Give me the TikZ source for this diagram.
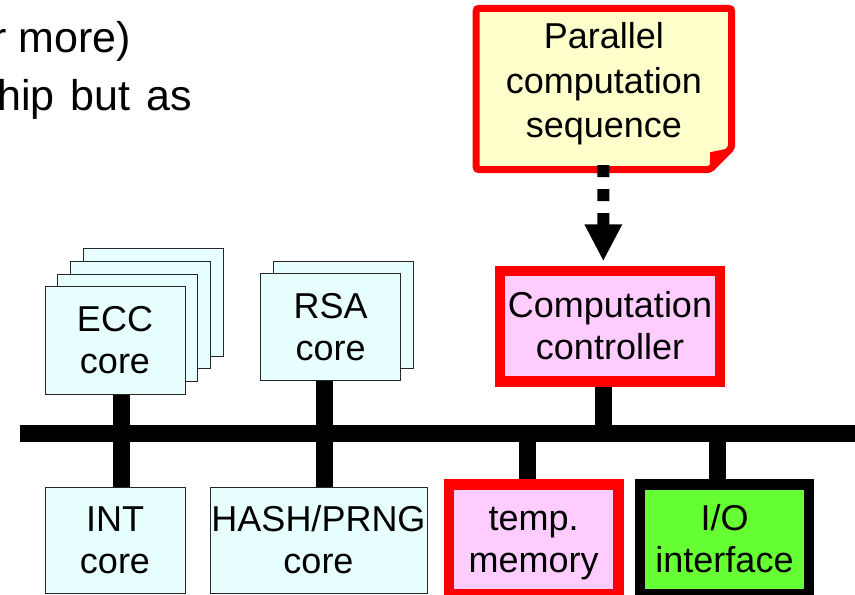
\documentclass[tikz,border=0pt]{standalone}
\usepackage{fontspec}
\setmainfont{Liberation Sans}
\usetikzlibrary{arrows.meta}
\definecolor{cyanfill}{HTML}{E8FFFF}
\definecolor{pinkfill}{HTML}{FFCCFF}
\definecolor{greenfill}{HTML}{66FF33}
\definecolor{notefill}{HTML}{FFFFCC}
\definecolor{pred}{HTML}{FF0000}
\newcommand{\boxstrut}{\rule[-8pt]{0pt}{41pt}}
\newcommand{\notestrut}{\rule[-17.4pt]{0pt}{43.4pt}}
\begin{document}
\begin{tikzpicture}[x=1pt,y=-1pt,
  txt/.style={font=\fontsize{36pt}{42pt}\selectfont, align=center, inner sep=0pt, rectangle},
  corebox/.style={txt, draw=black!85, line width=1pt, fill=cyanfill},
  hotbox/.style={txt, draw=pred, line width=7pt, fill=pinkfill},
  iobox/.style={txt, draw=black, line width=7pt, fill=greenfill},
  stub/.style={line width=17pt},
  busline/.style={line width=17pt},
  bigtxt/.style={anchor=base west, inner sep=0pt, font=\fontsize{43pt}{56pt}\selectfont}
]
\useasboundingbox (0,0) rectangle (855,595);

% heading text (cut off at left)
\node[bigtxt] (t1) at (-8,52) {r more)};
\node[bigtxt] (t2) at (-3,110) {hip\hspace{16pt}but\hspace{16pt}as};

% bus
\coordinate (busL) at (20,433.5);
\coordinate (busR) at (860,433.5);
\coordinate (bus) at (0,433.5);
\draw[busline] (busL) -- (busR);

% upper boxes
\node[corebox, minimum width=140pt, minimum height=107.3pt] (ecc3) at (153.1,302.55) {};
\node[corebox, minimum width=140pt, minimum height=107.3pt] (ecc2) at (140.4,315.15) {};
\node[corebox, minimum width=140pt, minimum height=107.3pt] (ecc1) at (127.7,327.75) {};
\node[corebox, minimum width=140pt, minimum height=107.3pt] (ecc) at (115,340.35) {\boxstrut ECC\\\boxstrut core};

\node[corebox, minimum width=140pt, minimum height=106.7pt] (rsa1) at (343.3,315.05) {};
\node[corebox, minimum width=140pt, minimum height=106.7pt] (rsa) at (330.7,326.65) {\boxstrut RSA\\\boxstrut core};

% lower boxes
\node[corebox, minimum width=140pt, minimum height=106pt] (int) at (115,540) {\boxstrut INT\\\boxstrut core};
\node[corebox, minimum width=217pt, minimum height=106pt] (hash) at (318.5,540) {\boxstrut HASH/PRNG\\\boxstrut core};

% stubs
\draw[stub] ([xshift=6.5pt]ecc.south) -- ([xshift=6.5pt]ecc.south |- bus);
\draw[stub] ([xshift=-6.2pt]rsa.south) -- ([xshift=-6.2pt]rsa.south |- bus);
\draw[stub] ([xshift=6.5pt]int.north) -- ([xshift=6.5pt]int.north |- bus);
\draw[stub] ([xshift=6pt]hash.north) -- ([xshift=6pt]hash.north |- bus);

% controller and memory / io
\node[hotbox, minimum width=216.4pt, minimum height=107pt] (comp) at (610,326.3) {\boxstrut Computation\\\boxstrut controller};
\node[hotbox, minimum width=165.7pt, minimum height=106.3pt] (temp) at (533.65,539.35) {\boxstrut temp.\\\boxstrut memory};
\node[iobox, minimum width=165.4pt, minimum height=106.3pt] (io) at (724.5,539.35) {\boxstrut I/O\\\boxstrut interface};

\draw[stub] ([xshift=-6.7pt]comp.south) -- ([xshift=-6.7pt]comp.south |- bus);
\draw[stub] ([xshift=-6pt]temp.north) -- ([xshift=-6pt]temp.north |- bus);
\draw[stub] ([xshift=-6.8pt]io.north) -- ([xshift=-6.8pt]io.north |- bus);
% redraw box outlines over stub ends
\draw[pred, line width=7pt] (comp.south west) rectangle (comp.north east);
\draw[pred, line width=7pt] (temp.south west) rectangle (temp.north east);
\draw[black, line width=7pt] (io.south west) rectangle (io.north east);

% note
\node[txt, minimum width=255.3pt, minimum height=161pt] (note) at (603.85,89) {};
\draw[pred, line width=7pt, fill=notefill, rounded corners=3pt]
  (note.north west) -- (note.north east) -- ([yshift=22pt]note.south east)
  -- ([xshift=-22pt]note.south east) -- (note.south west) -- cycle;
\fill[pred] ([xshift=-22pt]note.south east) -- ([xshift=-21.5pt,yshift=17.5pt]note.south east)
  -- ([yshift=22pt]note.south east) -- cycle;
\node[txt] (notetext) at (note.center) {\notestrut Parallel\\\notestrut computation\\\notestrut sequence};

% dotted arrow
\draw[line width=12pt, dash pattern=on 12pt off 12pt, -{Triangle[length=37pt,width=35pt]}]
  ([xshift=-0.5pt,yshift=4.5pt]note.south) -- ([xshift=-6.7pt,yshift=8pt]comp.north);
\end{tikzpicture}
\end{document}
